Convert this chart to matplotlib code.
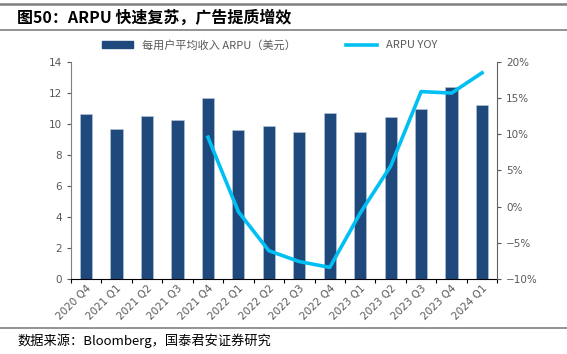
import matplotlib
matplotlib.use('Agg')
import numpy as np
import matplotlib.pyplot as plt
from matplotlib.lines import Line2D

plt.rcParams['font.family'] = ['Noto Sans CJK SC', 'DejaVu Sans']

quarters = ['2020 Q4', '2021 Q1', '2021 Q2', '2021 Q3', '2021 Q4', '2022 Q1', '2022 Q2',
            '2022 Q3', '2022 Q4', '2023 Q1', '2023 Q2', '2023 Q3', '2023 Q4', '2024 Q1']
arpu = [10.65, 9.68, 10.5, 10.25, 11.7, 9.6, 9.9, 9.45, 10.7, 9.5, 10.45, 10.97, 12.4, 11.2]
yoy_quarters = quarters[4:]
yoy = [9.6, -0.7, -6.1, -7.6, -8.4, -0.9, 5.6, 15.9, 15.7, 18.5]

bar_color = '#1F497D'
line_color = '#00BFF3'
grey = '#595959'

fig = plt.figure(figsize=(5.67, 3.54), dpi=100)
ax = fig.add_axes([0.125, 0.212, 0.752, 0.613])
x = np.arange(len(quarters))
ax.bar(x, arpu, width=0.4, color=bar_color, edgecolor='#B8C7DA', linewidth=0.4)
ax.set_xlim(-0.5, len(quarters) - 0.5)
ax.set_ylim(0, 14)
ax.set_yticks(range(0, 15, 2))

ax.set_xticks(np.arange(-0.5, len(quarters), 1))
ax.set_xticklabels([])
ax.set_xticks(x, minor=True)
ax.set_xticklabels(quarters, minor=True, rotation=45, ha='right', rotation_mode='anchor',
                   fontsize=7.5, color=grey, family='DejaVu Sans')
ax.tick_params(axis='x', which='minor', length=0, pad=3)
ax.tick_params(axis='x', which='major', length=3, color='black')
ax.tick_params(axis='y', labelsize=7.5, labelcolor=grey, length=3, color=grey)
for lbl in ax.get_yticklabels():
    lbl.set_family('DejaVu Sans')

ax.spines['top'].set_visible(False)
ax.spines['right'].set_visible(False)
ax.spines['left'].set_color('#808080')
ax.spines['bottom'].set_color('black')

ax2 = ax.twinx()
xi = [quarters.index(q) for q in yoy_quarters]
ax2.plot(xi, yoy, color=line_color, linewidth=2.6)
ax2.set_ylim(-10, 20)
ax2.set_yticks(range(-10, 21, 5))
ax2.set_yticklabels(['\u221210%', '\u22125%', '0%', '5%', '10%', '15%', '20%'],
                    family='DejaVu Sans')
ax2.tick_params(axis='y', labelsize=7.5, labelcolor=grey, length=3, color=grey)
ax2.spines['top'].set_visible(False)
ax2.spines['left'].set_visible(False)
ax2.spines['bottom'].set_visible(False)
ax2.spines['right'].set_color('#606060')

handles = [plt.Rectangle((0, 0), 1, 1, color=bar_color),
           Line2D([0], [0], color=line_color, linewidth=2.6)]
fig.legend(handles, ['每用户平均收入 ARPU（美元）', 'ARPU YOY'], loc='center',
           bbox_to_anchor=(0.475, 0.873), ncol=2, frameon=False, fontsize=8,
           labelcolor=grey, columnspacing=4.5, handlelength=2.8, handleheight=0.6)

# title and source with rules
fig.add_artist(Line2D([0.0, 1.0], [0.988, 0.988], color='#808080', linewidth=1.8))
fig.text(0.03, 0.950, '图50：ARPU 快速复苏，广告提质增效', fontsize=11.5,
         fontweight='bold', va='center', ha='left')
fig.add_artist(Line2D([0.0, 1.0], [0.915, 0.915], color='#808080', linewidth=1.2))
fig.add_artist(Line2D([0.0, 1.0], [0.073, 0.073], color='#808080', linewidth=1.2))
fig.text(0.03, 0.038, '数据来源：Bloomberg，国泰君安证券研究', fontsize=9.5,
         va='center', ha='left')

fig.savefig('out.png', dpi=100)
